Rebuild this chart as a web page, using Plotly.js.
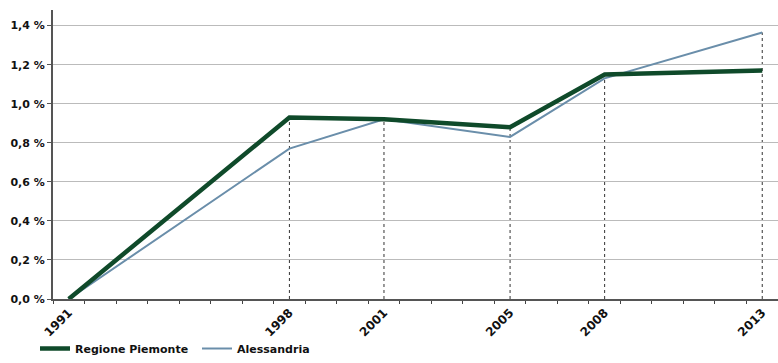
<!DOCTYPE html>
<html><head><meta charset="utf-8">
<script src="https://cdn.plot.ly/plotly-3.0.1.min.js"></script>
<style>html,body{margin:0;padding:0;background:#fff}#c{width:778px;height:363px}</style>
</head><body><div id="c"></div>
<script>
const years = [1991, 1998, 2001, 2005, 2008, 2013];
const yearLabels = ['1991', '1998', '2001', '2005', '2008', '2013'];
const piemonte = [0.0, 0.93, 0.92, 0.88, 1.15, 1.17];
const alessandria = [0.0, 0.77, 0.92, 0.83, 1.13, 1.365];
const seriesNames = ['Regione Piemonte', 'Alessandria'];
const yTicks = [0, 0.2, 0.4, 0.6, 0.8, 1.0, 1.2, 1.4];
const yTickLabels = ['0,0 %', '0,2 %', '0,4 %', '0,6 %', '0,8 %', '1,0 %', '1,2 %', '1,4 %'];

const font = {family: 'DejaVu Sans, sans-serif', size: 11, color: '#111'};
const xfont = {family: 'DejaVu Sans, sans-serif', size: 12, color: '#111'};
const b = s => '<b>' + s + '</b>';

const shapes = years.slice(1).map((yr, i) => ({
  type: 'line', xref: 'x', yref: 'y', x0: yr, x1: yr, y0: 0,
  y1: Math.max(piemonte[i + 1], alessandria[i + 1]),
  line: {color: '#333', width: 1, dash: 'dot'}, layer: 'below'
}));

const traces = [
  {x: years, y: alessandria, name: b(seriesNames[1]), mode: 'lines',
   line: {color: '#6a8eaa', width: 2}},
  {x: years, y: piemonte, name: b(seriesNames[0]), mode: 'lines',
   line: {color: '#0f4a2a', width: 4.5}}
];

const layout = {
  width: 778, height: 363,
  margin: {l: 53, r: 0, t: 10, b: 64},
  paper_bgcolor: '#fff', plot_bgcolor: '#fff',
  font: font,
  showlegend: true,
  legend: {orientation: 'h', traceorder: 'reversed', xref: 'container', yref: 'container', x: 0.045, y: -0.024,
    xanchor: 'left', yanchor: 'bottom', font: font, entrywidth: 117, entrywidthmode: 'pixels',
    bgcolor: 'rgba(0,0,0,0)'},
  xaxis: {
    type: 'linear', range: [1990.5, 2013.5], tickmode: 'array', tickvals: years,
    ticktext: yearLabels.map(b), tickangle: -45, ticks: '', showgrid: false, zeroline: false,
    showline: true, linecolor: '#555', linewidth: 2, tickfont: xfont,
    minor: {tick0: 1990.5, dtick: 1, ticks: 'outside', ticklen: 3, tickcolor: '#444', tickwidth: 1, showgrid: false}
  },
  yaxis: {
    range: [0, 1.48], tickmode: 'array', tickvals: yTicks, ticktext: yTickLabels.map(b),
    ticks: 'outside', ticklen: 4, tickcolor: '#555', showgrid: true, gridcolor: '#bbbbbb', gridwidth: 1,
    zeroline: false, showline: true, linecolor: '#555', linewidth: 2, tickfont: font
  },
  shapes: shapes
};
Plotly.newPlot('c', traces, layout, {displayModeBar: false, staticPlot: true});
</script></body></html>
